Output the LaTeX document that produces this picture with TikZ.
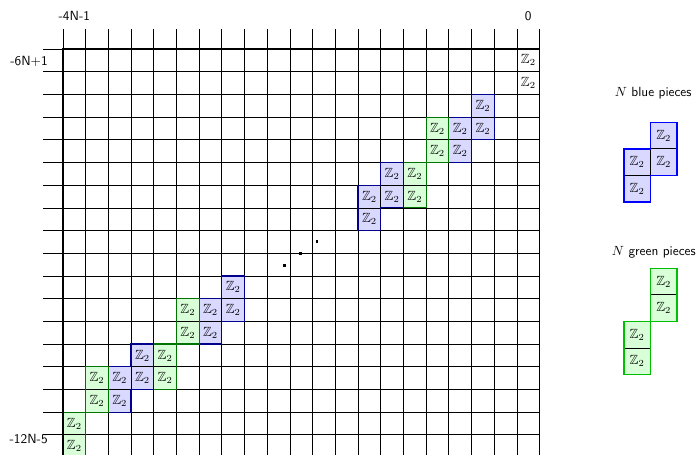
\documentclass[tikz,border=0pt]{standalone}
\usepackage{amssymb}
\tikzset{
  gridline/.style={line width=0.6pt, black},
  thickline/.style={line width=1.7pt, black},
  bcell/.style={fill=blue!15, draw=black, line width=0.6pt},
  gcell/.style={fill=green!15, draw=black, line width=0.6pt},
  bout/.style={draw=blue!55!black, line width=0.9pt},
  gout/.style={draw=green!45!black, line width=0.9pt},
  lbout/.style={draw=blue, line width=1pt},
  lgout/.style={draw=green!75!black, line width=1pt},
  zlab/.style={inner sep=0pt},
  axlab/.style={font=\sffamily, inner sep=0pt},
  dotmark/.style={fill=black},
}
\newcommand\ZCell[4]{%
  \draw[#3] (#1,-#2) rectangle ++(1,-1);
  \node[zlab] (#4) at (#1+0.5,-#2-0.5) {$\mathbb{Z}_2$};
}
\newcommand\BluePiece[2]{%
  \pgfmathtruncatemacro\cA{#1+1}%
  \pgfmathtruncatemacro\rA{#2+1}%
  \pgfmathtruncatemacro\rB{#2+2}%
  \ZCell{\cA}{#2}{bcell}{b#1a}
  \ZCell{#1}{\rA}{bcell}{b#1b}
  \ZCell{\cA}{\rA}{bcell}{b#1c}
  \ZCell{#1}{\rB}{bcell}{b#1d}
  \draw[bout] (#1+1,-#2) -- (#1+2,-#2) -- (#1+2,-#2-2) -- (#1+1,-#2-2) -- (#1+1,-#2-3) -- (#1,-#2-3) -- (#1,-#2-1) -- (#1+1,-#2-1) -- cycle;
}
\newcommand\GreenPiece[2]{%
  \pgfmathtruncatemacro\cA{#1+1}%
  \pgfmathtruncatemacro\rA{#2+1}%
  \pgfmathtruncatemacro\rB{#2+2}%
  \pgfmathtruncatemacro\rC{#2+3}%
  \ZCell{\cA}{#2}{gcell}{g#1a}
  \ZCell{\cA}{\rA}{gcell}{g#1b}
  \ZCell{#1}{\rB}{gcell}{g#1c}
  \ZCell{#1}{\rC}{gcell}{g#1d}
  \draw[gout] (#1+1,-#2) rectangle (#1+2,-#2-2);
  \draw[gout] (#1,-#2-2) rectangle (#1+1,-#2-4);
}
\begin{document}
\begin{tikzpicture}[x=0.6cm,y=0.6cm]
\useasboundingbox (-2.775,-17.885) rectangle (28.02,2.159);
% grid
\foreach \i in {0,...,21} { \draw[gridline] (\i,0.87) -- (\i,-18.5); }
\foreach \j in {0,...,18} { \draw[gridline] (-0.87,-\j) -- (21,-\j); }
% pieces
\BluePiece{17}{2}
\GreenPiece{15}{3}
\BluePiece{13}{5}
\BluePiece{6}{10}
\GreenPiece{4}{11}
\BluePiece{2}{13}
\GreenPiece{0}{14}
% plain Z2 cells
\node[zlab] (w0) at (20.5,-0.5) {$\mathbb{Z}_2$};
\node[zlab] (w1) at (20.5,-1.5) {$\mathbb{Z}_2$};
% thick axes
\draw[thickline] (0,-18.5) -- (0,0) -- (21,0);
% dots
\fill[dotmark] (11.19,-8.46) +(-0.065,-0.065) rectangle +(0.065,0.065);
\fill[dotmark] (10.47,-8.99) +(-0.065,-0.065) rectangle +(0.065,0.065);
\fill[dotmark] (9.74,-9.52) +(-0.065,-0.065) rectangle +(0.065,0.065);
% axis labels
\node[axlab] (top0) at (0.5,1.45) {-4N-1};
\node[axlab] (top1) at (20.5,1.45) {0};
\node[axlab, anchor=east] (left0) at (-0.66,-0.55) {-6N+1};
\node[axlab, anchor=east] (left1) at (-0.66,-17.2) {-12N-5};
% legend blue
\node[axlab] (lbt) at (26.0,-1.93) {$N$ blue pieces};
\draw[bcell] (25.88,-3.23) rectangle ++(1.17,-1.17);
\draw[bcell] (24.71,-4.40) rectangle ++(1.17,-1.17);
\draw[bcell] (25.88,-4.40) rectangle ++(1.17,-1.17);
\draw[bcell] (24.71,-5.57) rectangle ++(1.17,-1.17);
\draw[lbout] (25.88,-3.23) -- (27.05,-3.23) -- (27.05,-5.57) -- (25.88,-5.57) -- (25.88,-6.74) -- (24.71,-6.74) -- (24.71,-4.40) -- (25.88,-4.40) -- cycle;
\node[zlab] (lb1) at (26.465,-3.815) {$\mathbb{Z}_2$};
\node[zlab] (lb2) at (25.295,-4.985) {$\mathbb{Z}_2$};
\node[zlab] (lb3) at (26.465,-4.985) {$\mathbb{Z}_2$};
\node[zlab] (lb4) at (25.295,-6.155) {$\mathbb{Z}_2$};
% legend green
\node[axlab] (lgt) at (26.03,-8.97) {$N$ green pieces};
\draw[gcell] (25.88,-9.66) rectangle ++(1.17,-1.17);
\draw[gcell] (25.88,-10.83) rectangle ++(1.17,-1.17);
\draw[gcell] (24.71,-12.00) rectangle ++(1.17,-1.17);
\draw[gcell] (24.71,-13.17) rectangle ++(1.17,-1.17);
\draw[lgout] (25.88,-9.66) rectangle (27.05,-12.00);
\draw[lgout] (24.71,-12.00) rectangle (25.88,-14.34);
\node[zlab] (lg1) at (26.465,-10.245) {$\mathbb{Z}_2$};
\node[zlab] (lg2) at (26.465,-11.415) {$\mathbb{Z}_2$};
\node[zlab] (lg3) at (25.295,-12.585) {$\mathbb{Z}_2$};
\node[zlab] (lg4) at (25.295,-13.755) {$\mathbb{Z}_2$};
\end{tikzpicture}
\end{document}
